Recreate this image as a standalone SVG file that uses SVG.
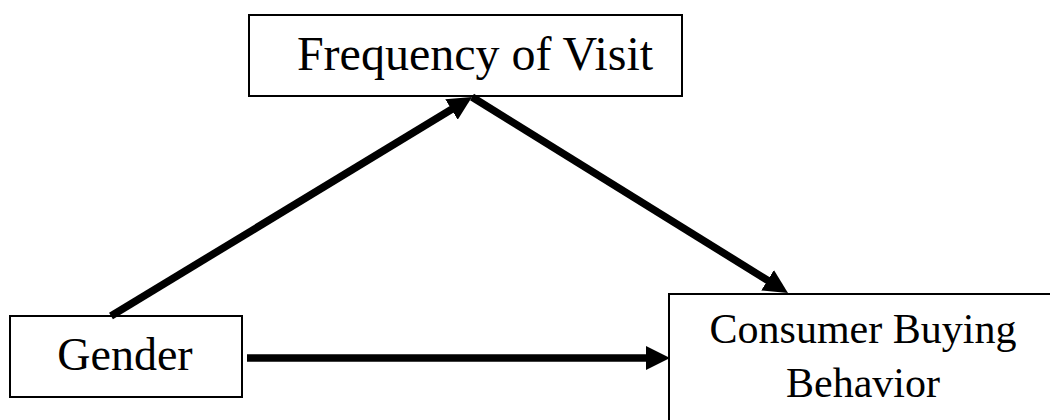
<svg xmlns="http://www.w3.org/2000/svg" width="1050" height="420" viewBox="0 0 1050 420">
<defs>
<style>
.box{fill:#fff;stroke:#000;stroke-width:2}
.lbl{font-family:"Liberation Serif","Times New Roman",serif;fill:#000;text-anchor:middle}
.con{stroke:#000;stroke-width:7.5;fill:none;marker-end:url(#ah)}
</style>
<marker id="ah" viewBox="0 0 3.2 3.2" markerWidth="3.2" markerHeight="3.2" refX="0.3" refY="1.6" orient="auto" markerUnits="strokeWidth">
<path d="M0,0 L3.2,1.6 L0,3.2 z" fill="#000"/>
</marker>
</defs>
<rect width="1050" height="420" fill="#fff"/>
<g id="freq">
<rect class="box" x="249" y="15" width="433" height="81"/>
<text class="lbl" x="475" y="70" font-size="48">Frequency of Visit</text>
</g>
<g id="gender">
<rect class="box" x="10" y="316" width="232" height="81"/>
<text class="lbl" x="125" y="370" font-size="46">Gender</text>
</g>
<g id="consumer">
<rect class="box" x="669" y="294" width="400" height="150"/>
<text class="lbl" x="863" y="343" font-size="42">Consumer Buying</text>
<text class="lbl" x="863" y="397" font-size="42">Behavior</text>
</g>
<g id="connectors">
<line class="con" x1="111" y1="316" x2="453.4" y2="108.3"/>
<line class="con" x1="472" y1="97" x2="769.5" y2="281.5"/>
<line class="con" x1="247" y1="358" x2="648.25" y2="358"/>
</g>
</svg>
